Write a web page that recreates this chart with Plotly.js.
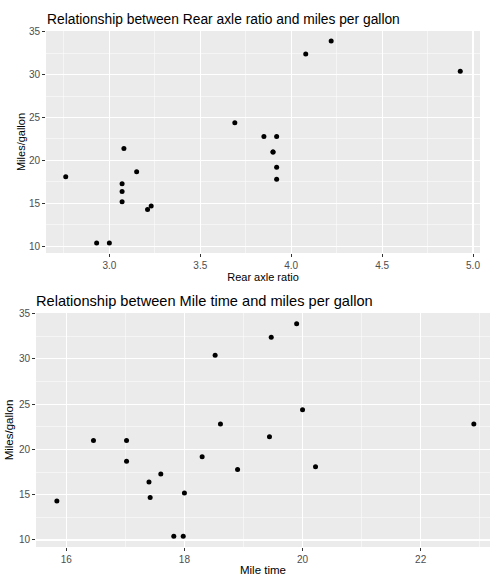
<!DOCTYPE html>
<html>
<head>
<meta charset="utf-8">
<script src="https://cdn.plot.ly/plotly-3.0.1.min.js"></script>
<style>html,body{margin:0;padding:0;background:#fff;}#chart{width:490px;height:576px;}</style>
</head>
<body>
<div id="chart"></div>
<script>
// Data (mpg vs rear axle ratio and vs mile time)
const mpg        = [21.0, 21.0, 22.8, 21.4, 18.7, 18.1, 14.3, 24.4, 22.8, 19.2, 17.8, 16.4, 17.3, 15.2, 10.4, 10.4, 14.7, 32.4, 30.4, 33.9];
const rearAxle   = [3.90, 3.90, 3.85, 3.08, 3.15, 2.76, 3.21, 3.69, 3.92, 3.92, 3.92, 3.07, 3.07, 3.07, 2.93, 3.00, 3.23, 4.08, 4.93, 4.22];
const mileTime   = [16.46, 17.02, 18.61, 19.44, 17.02, 20.22, 15.84, 20.00, 22.90, 18.30, 18.90, 17.40, 17.60, 18.00, 17.98, 17.82, 17.42, 19.47, 18.52, 19.90];
const titleTop    = "Relationship between Rear axle ratio and miles per gallon";
const titleBottom = "Relationship between Mile time and miles per gallon";
const xTitleTop   = "Rear axle ratio";
const xTitleBottom= "Mile time";
const yTitle      = "Miles/gallon";
const yTicks      = [10, 15, 20, 25, 30, 35];
const xTicksTop   = [3.0, 3.5, 4.0, 4.5, 5.0];
const xTicksBottom= [16, 18, 20, 22];

const W = 490, H = 576;
const FONT = "Liberation Sans, Arial, sans-serif";
const px = v => v / W;
const py = v => 1 - v / H;

const marker = {color: "#000000", size: 5};
const traces = [
  {type: "scatter", mode: "markers", x: rearAxle, y: mpg, xaxis: "x", yaxis: "y", marker: marker, hoverinfo: "x+y"},
  {type: "scatter", mode: "markers", x: mileTime, y: mpg, xaxis: "x2", yaxis: "y2", marker: marker, hoverinfo: "x+y"}
];

function axisBase(fontSize) {
  return {
    showline: false, zeroline: false,
    showgrid: true, gridcolor: "#FFFFFF", gridwidth: 1.1,
    ticks: "outside", ticklen: 3, tickwidth: 1, tickcolor: "#333333",
    tickfont: {family: FONT, size: fontSize, color: "#4D4D4D"},
    fixedrange: true
  };
}

const layout = {
  width: W, height: H,
  margin: {l: 0, r: 0, t: 0, b: 0},
  paper_bgcolor: "#FFFFFF",
  plot_bgcolor: "#EBEBEB",
  showlegend: false,
  xaxis: Object.assign(axisBase(10), {
    domain: [px(46), px(480)], anchor: "y",
    range: [2.6515, 5.0385], tickvals: xTicksTop, tickformat: ".1f",
    minor: {showgrid: true, gridcolor: "#FFFFFF", gridwidth: 0.5, tickvals: [2.75, 3.25, 3.75, 4.25, 4.75]},
    title: {text: xTitleTop, font: {family: FONT, size: 11, color: "#000000"}, standoff: 3}
  }),
  yaxis: Object.assign(axisBase(10), {
    domain: [py(253), py(31)], anchor: "x",
    range: [9.225, 35.075], tickvals: yTicks,
    minor: {showgrid: true, gridcolor: "#FFFFFF", gridwidth: 0.5, tickvals: [12.5, 17.5, 22.5, 27.5, 32.5]},
    title: {text: yTitle, font: {family: FONT, size: 11, color: "#000000"}, standoff: 1}
  }),
  xaxis2: Object.assign(axisBase(10), {
    domain: [px(36), 1], anchor: "y2",
    range: [15.487, 23.174], tickvals: xTicksBottom,
    minor: {showgrid: true, gridcolor: "#FFFFFF", gridwidth: 0.5, tickvals: [17, 19, 21, 23]},
    title: {text: xTitleBottom, font: {family: FONT, size: 11.5, color: "#000000"}, standoff: 3}
  }),
  yaxis2: Object.assign(axisBase(10), {
    domain: [py(547), py(313)], anchor: "x2",
    range: [9.225, 35.075], tickvals: yTicks,
    minor: {showgrid: true, gridcolor: "#FFFFFF", gridwidth: 0.5, tickvals: [12.5, 17.5, 22.5, 27.5, 32.5]},
    title: {text: yTitle, font: {family: FONT, size: 11.5, color: "#000000"}, standoff: 2}
  }),
  annotations: [
    {text: titleTop, xref: "paper", yref: "paper", x: px(45), y: py(19), xanchor: "left", yanchor: "middle",
     showarrow: false, font: {family: FONT, size: 13.8, color: "#000000"}},
    {text: titleBottom, xref: "paper", yref: "paper", x: px(34), y: py(301), xanchor: "left", yanchor: "middle",
     showarrow: false, font: {family: FONT, size: 14.6, color: "#000000"}}
  ]
};

Plotly.newPlot("chart", traces, layout, {displayModeBar: false, staticPlot: true});
</script>
</body>
</html>
